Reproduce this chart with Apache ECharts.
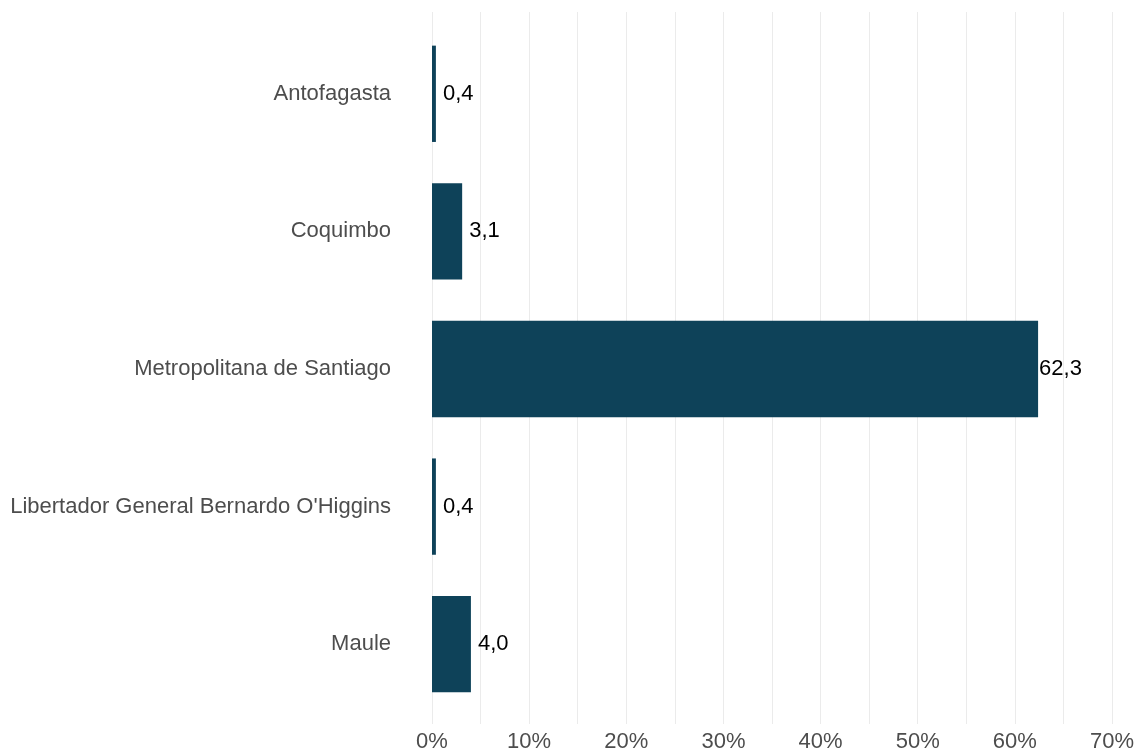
<!DOCTYPE html>
<html>
<head>
<meta charset="utf-8">
<script src="https://cdn.jsdelivr.net/npm/echarts@6/dist/echarts.min.js"></script>
<style>
  html, body { margin: 0; padding: 0; background: #fff; }
  #chart { width: 1137px; height: 753px; }
</style>
</head>
<body>
<div id="chart"></div>
<script>
// datos
var regiones = ['Antofagasta', 'Coquimbo', 'Metropolitana de Santiago', "Libertador General Bernardo O'Higgins", 'Maule'];
var porcentajes = [0.4, 3.1, 62.3, 0.4, 4.0];
var ticksX = [0, 10, 20, 30, 40, 50, 60, 70];

var fuente = 'Liberation Sans, Arial, sans-serif';

function fmtValor(v) {
    return v.toFixed(1).replace('.', ',');
}

// separacion de la etiqueta: las barras largas la pegan al borde
var datosBarras = porcentajes.map(function (v) {
    return {value: v, label: {distance: v > 50 ? 1 : 7}};
});

var chart = echarts.init(document.getElementById('chart'));
var option = {
    backgroundColor: '#ffffff',
    animation: false,
    grid: [
        // barras
        {left: 432, right: 24, top: 25, bottom: 40},
        // lineas de la grilla (panel completo)
        {left: 432, right: 24, top: 12, bottom: 27}
    ],
    xAxis: [{
        gridIndex: 0,
        type: 'value',
        min: 0,
        max: 70,
        show: false
    }, {
        gridIndex: 1,
        type: 'value',
        min: 0,
        max: 70,
        interval: 5,
        axisLine: {show: false},
        axisTick: {show: false},
        splitLine: {show: true, lineStyle: {color: '#ebebeb', width: 1}},
        axisLabel: {
            color: '#4d4d4d',
            fontSize: 22,
            fontFamily: fuente,
            margin: 7,
            formatter: function (v) {
                return ticksX.indexOf(v) >= 0 ? v + '%' : '';
            }
        }
    }],
    yAxis: [{
        gridIndex: 0,
        type: 'category',
        inverse: true,
        data: regiones,
        axisLine: {show: false},
        axisTick: {show: false},
        splitLine: {show: false},
        axisLabel: {
            color: '#4d4d4d',
            fontSize: 22,
            fontFamily: fuente,
            margin: 41,
            padding: [10, 0, 0, 0]
        }
    }, {
        gridIndex: 1,
        type: 'value',
        show: false
    }],
    series: [{
        type: 'bar',
        xAxisIndex: 0,
        yAxisIndex: 0,
        data: datosBarras,
        barWidth: '70%',
        itemStyle: {color: '#0e4259'},
        label: {
            show: true,
            position: 'right',
            color: '#000000',
            fontSize: 22,
            fontFamily: fuente,
            padding: [10, 0, 0, 0],
            formatter: function (p) {
                return fmtValor(p.value);
            }
        }
    }]
};
chart.setOption(option);
</script>
</body>
</html>
